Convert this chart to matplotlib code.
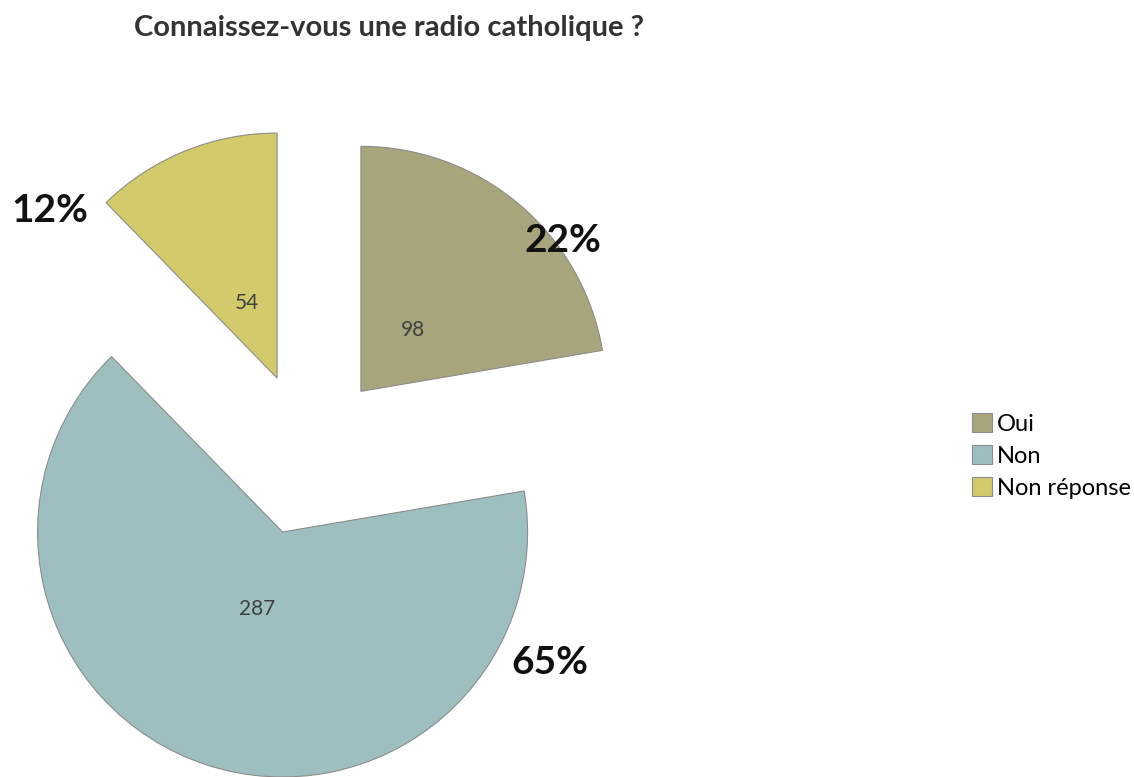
import matplotlib.pyplot as plt

# data
categories = ["Oui", "Non", "Non réponse"]
values = [98, 287, 54]
pct_labels = ["22%", "65%", "12%"]
colors = ["#a8a47b", "#9dbfc0", "#d3cb6b"]

plt.rcParams["font.family"] = ["Lato", "DejaVu Sans"]

W, H = 1134, 777
fig = plt.figure(figsize=(W / 100, H / 100), dpi=100)
ax = fig.add_axes([0, 0, 1, 1])

# pie in pixel-like data units (explode is in data units here)
val_iter = iter(values)
wedges, texts, autotexts = ax.pie(
    values, colors=colors, startangle=90, counterclock=False,
    center=(308, H - 454), radius=245, explode=[82] * 3,
    autopct=lambda p: str(next(val_iter)), pctdistance=0.33,
    wedgeprops=dict(edgecolor="#8c8c8c", linewidth=0.8),
    textprops=dict(fontsize=15, color="#404040"),
    frame=True,
)
ax.set_xlim(0, W)
ax.set_ylim(0, H)
ax.axis("off")

# percent labels, placed as in the original
pct_pos = [(563, 240), (550, 662), (50, 210)]
for lab, (x, y) in zip(pct_labels, pct_pos):
    ax.text(x, H - y, lab, fontsize=28, fontweight="bold",
            ha="center", va="center", color="#111111")

fig.text(389 / W, 1 - 28 / H, "Connaissez-vous une radio catholique ?",
         ha="center", va="center", fontsize=21, fontweight="bold", color="#333333")

ax.legend(wedges, categories, loc="center left", bbox_to_anchor=(972 / W, 1 - 456 / H),
          bbox_transform=fig.transFigure, frameon=False, fontsize=17,
          handlelength=0.85, handleheight=0.85, handletextpad=0.2, labelspacing=0.45,
          borderaxespad=0, borderpad=0)

fig.savefig("out.png", dpi=100)
